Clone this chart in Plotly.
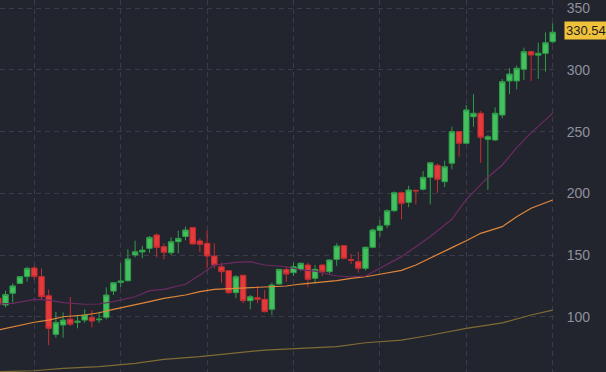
import plotly.graph_objects as go

# ---- data ----
idx = list(range(78))
open_ = [115, 109.5, 119, 127, 132.5, 139.5, 132.5, 117, 85.7, 93.3,
         98, 95.5, 97.3, 99.2, 97.5, 99.5, 120.8, 127.8, 129.2, 150,
         152.5, 155.4, 166.2, 156.8, 151.9, 160.8, 165, 172.2, 161.4, 159.5,
         149.2, 140.5, 137.3, 119.5, 133.6, 113, 115.4, 114.1, 106, 126.5,
         138.2, 135.7, 138.4, 141.9, 131.1, 141.9, 136.5, 146.5, 157.6, 146.3,
         144.6, 139.2, 156.3, 170, 174.3, 185.9, 200.5, 192.7, 202.4, 203.3,
         213, 222.7, 209.4, 224.4, 250, 240.6, 262.1, 264.9, 243.8, 243.2,
         263.5, 291.1, 291.1, 300.6, 314.8, 312, 313.5, 322.9]
high = [117, 121, 127, 133, 140.5, 141, 139, 122, 104, 103.5,
        116, 101.4, 106, 105.4, 104, 123.8, 128, 143.3, 154.6, 161.6,
        157.6, 165.4, 167.6, 159.5, 164.3, 169.7, 173, 172.5, 163.6, 170.3,
        159.5, 143.8, 137.5, 133.8, 134, 117.6, 124.9, 121.6, 127.6, 138.6,
        140.5, 143.8, 144, 143.8, 141.9, 142.5, 146.5, 159.5, 158, 150.8,
        152.7, 156.8, 171.5, 178.4, 187, 201.5, 201.5, 206.2, 203, 218.1,
        225.6, 224.2, 226.5, 254, 250.5, 271.6, 280.3, 266.7, 247.3, 269.7,
        292.7, 301.4, 303.5, 318.1, 315.6, 322.1, 330.5, 337.8]
low = [108, 107.6, 111.4, 126.5, 128.4, 130, 113.5, 77, 83, 83,
       92.5, 90.6, 95, 91.4, 95, 97.9, 117.6, 123.8, 128.4, 148.1,
       147.3, 151.9, 148.1, 146.5, 150, 151.4, 162, 158.5, 152.2, 139.2,
       139.2, 127.6, 118.5, 114.9, 111, 106, 110.9, 103.5, 101.4, 126,
       128.4, 133, 137, 123.8, 127.1, 133, 135, 141.3, 146.5, 142.7,
       135.7, 137.5, 155.5, 164.9, 171.7, 185, 179, 188.7, 191.1, 202.2,
       191.1, 200.5, 205.1, 219.5, 229.7, 240, 254, 224.8, 202.7, 242.5,
       260.8, 280.3, 284.3, 291.9, 291.1, 292.7, 298.6, 321.6]
close = [110, 118, 125, 132.5, 139.2, 132.5, 116.2, 90.6, 95.4, 97.3,
         94, 96.3, 101.4, 96.5, 98, 117.6, 127.6, 129, 146.8, 152.7,
         154, 164.3, 156.2, 152.2, 160.8, 163.5, 170.3, 159, 158.7, 149.2,
         141.9, 136.5, 119.5, 132.4, 113, 116.2, 114.1, 104.1, 125.7, 138.4,
         134.6, 140.5, 143.3, 130.3, 138.4, 136.5, 146, 157.3, 147.3, 145.8,
         139.2, 156.3, 170.3, 173.5, 185.9, 200.5, 191.9, 202.7, 202, 213,
         224.8, 211.4, 221.6, 250, 240.6, 267.6, 264.9, 245.4, 245.9, 264.9,
         290.5, 296.7, 301.4, 314.8, 312.1, 313.5, 322.1, 330.54]

ma_fast_x = [0, 2, 5, 7, 9, 12, 14, 16, 19, 21, 23, 26, 28, 30, 33, 35, 37, 40, 42, 44,
             47, 49, 51, 53, 56, 58, 60, 63, 65, 66, 68, 70, 72, 74, 77]
ma_fast = [110.3, 110.9, 114.1, 113.5, 111.4, 110.1, 110.3, 112.2, 116.2, 121.1,
           122.2, 126.3, 133.8, 141.9, 144.1, 144.6, 141.9, 140.5, 137.9, 137.0,
           133, 132.4, 133, 139.2, 148.7, 156.8, 165, 179, 195, 201,
           213, 223, 237, 249, 265]

ma_mid_x = [0, 2, 5, 7, 9, 12, 14, 16, 19, 21, 23, 26, 28, 30, 33, 35, 37, 40, 42, 44,
            47, 49, 51, 53, 56, 58, 60, 63, 65, 67, 70, 72, 74, 77]
ma_mid = [89.3, 92.0, 95.5, 97.3, 100, 101.4, 103.2, 106, 109.5, 112.2,
          114.9, 117.6, 120.3, 122.2, 123, 123.5, 123.8, 124.9, 126.5, 127.6,
          129.2, 131.1, 132.4, 134.4, 137.6, 141.9, 147.3, 156, 161.6, 167.6,
          173, 181.1, 187.9, 194.6]

ma_slow_x = [0, 5, 9, 14, 19, 23, 28, 33, 37, 42, 47, 51, 56, 60, 65, 70, 74, 77]
ma_slow = [55.4, 56.2, 58.2, 59.5, 62.2, 65.5, 67.6, 70.3, 73, 74.4,
           75.7, 78.9, 81.1, 85, 90.6, 95, 101.4, 105.4]

y_ticks = [100, 150, 200, 250, 300, 350]
last_label = "330.54"

# ---- styling ----
BG = "#22242e"
GRID = "#3a3d49"
FONT = "Liberation Sans, Arial, sans-serif"

fig = go.Figure()
fig.add_trace(go.Scatter(x=ma_slow_x, y=ma_slow, mode="lines",
                         line=dict(color="#7f6c35", width=1.2), hoverinfo="skip"))
fig.add_trace(go.Scatter(x=ma_mid_x, y=ma_mid, mode="lines",
                         line=dict(color="#e0883a", width=1.2), hoverinfo="skip"))
fig.add_trace(go.Scatter(x=ma_fast_x, y=ma_fast, mode="lines",
                         line=dict(color="#6c2b62", width=1.2), hoverinfo="skip"))
fig.add_trace(go.Candlestick(
    x=idx, open=open_, high=high, low=low, close=close,
    increasing=dict(fillcolor="#43c15e", line=dict(color="#2f9e49", width=1)),
    decreasing=dict(fillcolor="#e5393b", line=dict(color="#c42f32", width=1)),
    whiskerwidth=0,
))

fig.update_layout(
    width=606, height=372,
    paper_bgcolor=BG, plot_bgcolor=BG,
    margin=dict(l=0, r=49, t=0, b=0, autoexpand=False),
    showlegend=False,
    boxgap=0.05, boxgroupgap=0.2,
    font=dict(family=FONT, color="#8e919c", size=14),
    xaxis=dict(range=[0.236, 77.6], rangeslider=dict(visible=False),
               showticklabels=False, tick0=5, dtick=12, automargin=False,
               showgrid=True, gridcolor=GRID, griddash="5px,4px", gridwidth=1,
               zeroline=False, showline=False),
    yaxis=dict(side="right", range=[55.2, 356.7], tickvals=y_ticks, automargin=False,
               showgrid=True, gridcolor=GRID, griddash="5px,4px", gridwidth=1,
               zeroline=False, showline=False,
               ticks="outside", ticklen=6, tickcolor="rgba(0,0,0,0)"),
    annotations=[dict(text=last_label, xref="paper", x=1, xanchor="left", xshift=7,
                      yref="y", y=close[-1], yshift=2, showarrow=False,
                      bgcolor="#f0c23c", borderpad=1,
                      font=dict(color="#1d1d1d", size=13, family=FONT))],
)

fig.write_html("out.html", config={"displayModeBar": False},
               post_script="document.body.style.margin='0';"
                           "document.body.style.background='%s';" % BG)
